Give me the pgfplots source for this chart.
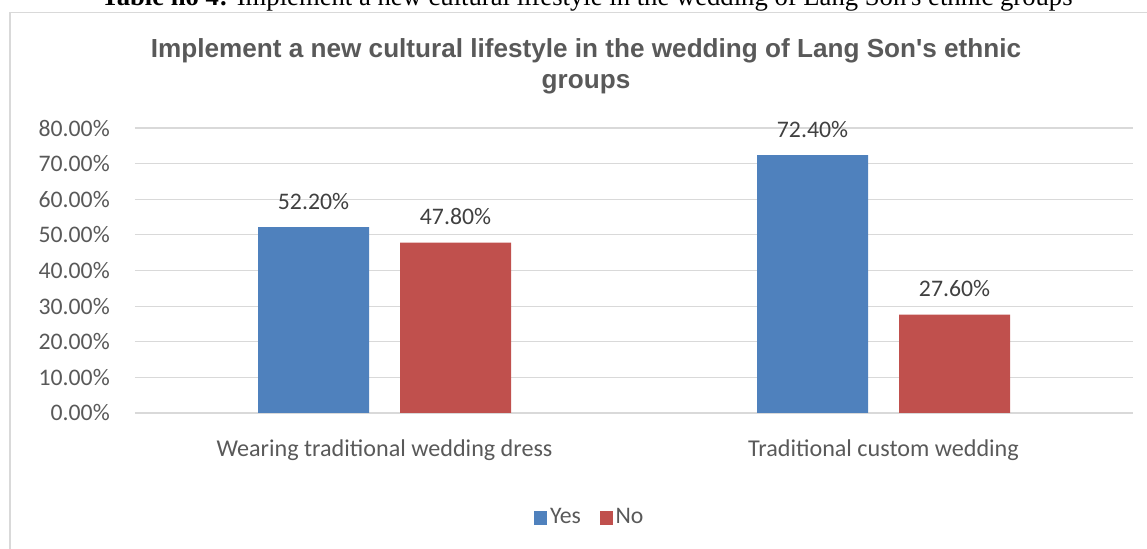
\documentclass[border=0pt]{standalone}
\usepackage{fontspec}
\setmainfont{Carlito}
\newfontfamily\titlefont{Liberation Sans}
\newfontfamily\capfont{Liberation Serif}
\usepackage{pgfplots}
\pgfplotsset{compat=1.18}
\definecolor{yesblue}{HTML}{4F81BD}
\definecolor{nored}{HTML}{C0504D}
\definecolor{gridgray}{HTML}{D9D9D9}
\definecolor{ticktext}{HTML}{595959}
\definecolor{labeltext}{HTML}{404040}
\begin{document}
\fontsize{17.8pt}{21pt}\selectfont
\begin{tikzpicture}
\begin{axis}[
  at={(101.25pt,102pt)}, anchor=south west,
  scale only axis, width=748.5pt, height=213.75pt,
  ymin=0, ymax=80, xmin=-0.5, xmax=1.5,
  ybar=23.25pt, bar width=83.25pt,
  xtick={0,1},
  xticklabels={Wearing traditional wedding dress, Traditional custom wedding},
  ytick={0,10,...,80},
  major tick length=0pt,
  axis line style={draw=none},
  ymajorgrids, grid style={gridgray, line width=0.9pt},
  /pgf/number format/assume math mode=true,
  yticklabel={\pgfmathprintnumber[fixed,fixed zerofill,precision=2]{\tick}\%},
  yticklabel style={text=ticktext, anchor=east, inner sep=0pt, xshift=-18.75pt},
  xticklabel style={text=ticktext, anchor=base, inner sep=0pt, yshift=-33pt,
    font=\fontsize{18.1pt}{21pt}\selectfont},
  nodes near coords={\pgfmathprintnumber[fixed,fixed zerofill,precision=2]{\pgfplotspointmeta}\%},
  every node near coord/.append style={anchor=base, yshift=13.5pt, inner sep=0pt, text=labeltext},
  legend style={at={(0.456,-0.368)}, anchor=center, draw=none, fill=none,
    legend columns=-1, text=ticktext, inner sep=0pt,
    /tikz/every even column/.append style={column sep=12pt}},
  legend image code/.code={\fill[#1] (0pt,-5pt) rectangle (10pt,5pt);},
  clip=false,
]
\addplot[fill=yesblue, draw=none] coordinates {(0,52.2) (1,72.4)};
\addplot[fill=nored, draw=none] coordinates {(0,47.8) (1,27.6)};
\legend{Yes, No}
\end{axis}
\draw[gridgray, line width=1.2pt] (7.5pt,-20pt) -- (7.5pt,402.4pt) -- (880pt,402.4pt);
\node[anchor=base, inner sep=0pt, font=\capfont\fontsize{20pt}{22pt}\selectfont] at (440.25pt,407.25pt)
  {\textbf{Table no 4:} Implement a new cultural lifestyle in the wedding of Lang Son\textquotesingle s ethnic groups};
\node[anchor=base, inner sep=0pt, text=ticktext, font=\titlefont\bfseries\fontsize{19.6pt}{22pt}\selectfont] at (439.5pt,368.25pt)
  {Implement a new cultural lifestyle in the wedding of Lang Son\textquotesingle s ethnic};
\node[anchor=base, inner sep=0pt, text=ticktext, font=\titlefont\bfseries\fontsize{19.6pt}{22pt}\selectfont] at (439.5pt,345pt)
  {groups};
\pgfresetboundingbox
\useasboundingbox (0,0) rectangle (860.25pt,411.75pt);
\end{tikzpicture}
\end{document}
